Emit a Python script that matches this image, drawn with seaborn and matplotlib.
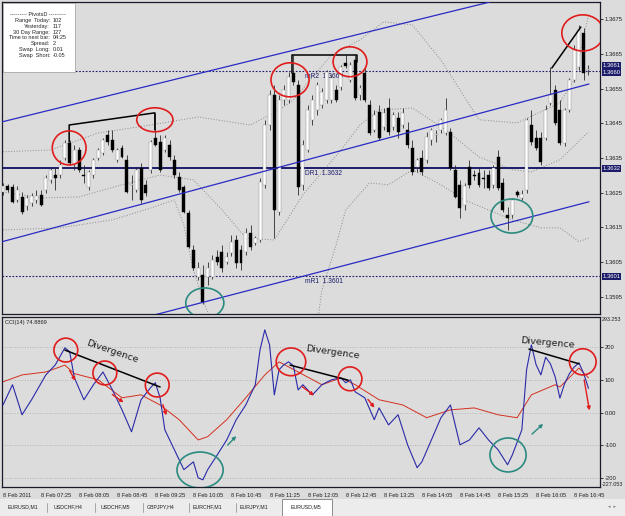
import numpy as np
import matplotlib
matplotlib.use("Agg")
import matplotlib.pyplot as plt
import matplotlib.transforms as mtransforms
from matplotlib.patches import Ellipse, Rectangle
import seaborn as sns

# EURUSD M5, 8 Feb 2011 (one value per 5-minute bar)
opens = [1.36252, 1.36270, 1.36267, 1.36229, 1.36238, 1.36212, 1.36221, 1.36229, 1.36244, 1.36258,
         1.36287, 1.36301, 1.36301, 1.36350, 1.36393, 1.36330, 1.36373, 1.36301, 1.36267, 1.36301,
         1.36350, 1.36365, 1.36416, 1.36402, 1.36345, 1.36379, 1.36345, 1.36273, 1.36258, 1.36322,
         1.36273, 1.36316, 1.36408, 1.36396, 1.36373, 1.36388, 1.36345, 1.36295, 1.36267, 1.36192,
         1.36086, 1.36008, 1.36014, 1.36008, 1.36008, 1.36065, 1.36080, 1.36051, 1.36077, 1.36114,
         1.36086, 1.36080, 1.36134, 1.36106, 1.36114, 1.36273, 1.36445, 1.36532, 1.36195, 1.36517,
         1.36517, 1.36595, 1.36560, 1.36273, 1.36373, 1.36460, 1.36488, 1.36503, 1.36517, 1.36517,
         1.36546, 1.36555, 1.36624, 1.36575, 1.36632, 1.36532, 1.36595, 1.36503, 1.36431, 1.36483,
         1.36440, 1.36494, 1.36440, 1.36465, 1.36445, 1.36431, 1.36379, 1.36324, 1.36350, 1.36345,
         1.36402, 1.36416, 1.36431, 1.36422, 1.36425, 1.36316, 1.36273, 1.36215, 1.36324, 1.36301,
         1.36307, 1.36293, 1.36301, 1.36273, 1.36353, 1.36278, 1.36186, 1.36186, 1.36252, 1.36235,
         1.36258, 1.36445, 1.36408, 1.36408, 1.36408, 1.36509, 1.36546, 1.36488, 1.36393, 1.36488,
         1.36575, 1.36612, 1.36710, 1.36604]
highs = [1.36278, 1.36275, 1.36275, 1.36270, 1.36252, 1.36244, 1.36250, 1.36258, 1.36258, 1.36301,
         1.36322, 1.36324, 1.36345, 1.36402, 1.36402, 1.36388, 1.36382, 1.36330, 1.36316, 1.36350,
         1.36379, 1.36408, 1.36431, 1.36431, 1.36379, 1.36388, 1.36359, 1.36301, 1.36322, 1.36336,
         1.36287, 1.36402, 1.36480, 1.36416, 1.36416, 1.36402, 1.36359, 1.36310, 1.36273, 1.36201,
         1.36100, 1.36051, 1.36042, 1.36051, 1.36071, 1.36086, 1.36100, 1.36080, 1.36129, 1.36129,
         1.36100, 1.36149, 1.36157, 1.36126, 1.36293, 1.36460, 1.36546, 1.36560, 1.36532, 1.36560,
         1.36598, 1.36647, 1.36575, 1.36402, 1.36503, 1.36532, 1.36569, 1.36552, 1.36604, 1.36589,
         1.36560, 1.36618, 1.36647, 1.36627, 1.36647, 1.36560, 1.36609, 1.36517, 1.36488, 1.36503,
         1.36494, 1.36523, 1.36483, 1.36483, 1.36494, 1.36454, 1.36402, 1.36350, 1.36373, 1.36425,
         1.36437, 1.36431, 1.36465, 1.36523, 1.36437, 1.36330, 1.36287, 1.36278, 1.36345, 1.36316,
         1.36322, 1.36316, 1.36316, 1.36330, 1.36373, 1.36293, 1.36209, 1.36235, 1.36258, 1.36258,
         1.36465, 1.36488, 1.36431, 1.36425, 1.36503, 1.36612, 1.36560, 1.36517, 1.36494, 1.36581,
         1.36676, 1.36733, 1.36724, 1.36618]
lows = [1.36244, 1.36252, 1.36221, 1.36224, 1.36189, 1.36201, 1.36212, 1.36221, 1.36212, 1.36250,
        1.36278, 1.36258, 1.36293, 1.36345, 1.36330, 1.36316, 1.36310, 1.36278, 1.36258, 1.36293,
        1.36345, 1.36359, 1.36388, 1.36368, 1.36339, 1.36350, 1.36250, 1.36229, 1.36252, 1.36221,
        1.36241, 1.36307, 1.36385, 1.36310, 1.36368, 1.36345, 1.36293, 1.36252, 1.36192, 1.36091,
        1.36028, 1.35999, 1.35930, 1.35985, 1.36002, 1.36042, 1.36022, 1.36045, 1.36068, 1.36034,
        1.36028, 1.36071, 1.36086, 1.36100, 1.36109, 1.36264, 1.36431, 1.36120, 1.36186, 1.36503,
        1.36509, 1.36560, 1.36244, 1.36258, 1.36368, 1.36445, 1.36474, 1.36494, 1.36509, 1.36509,
        1.36511, 1.36546, 1.36609, 1.36569, 1.36517, 1.36517, 1.36511, 1.36416, 1.36425, 1.36402,
        1.36431, 1.36416, 1.36431, 1.36408, 1.36437, 1.36379, 1.36301, 1.36310, 1.36301, 1.36336,
        1.36388, 1.36396, 1.36422, 1.36416, 1.36316, 1.36235, 1.36178, 1.36201, 1.36264, 1.36287,
        1.36267, 1.36264, 1.36258, 1.36264, 1.36258, 1.36195, 1.36143, 1.36178, 1.36238, 1.36229,
        1.36250, 1.36388, 1.36373, 1.36330, 1.36402, 1.36503, 1.36445, 1.36388, 1.36385, 1.36483,
        1.36569, 1.36604, 1.36575, 1.36589]
closes = [1.36270, 1.36258, 1.36224, 1.36258, 1.36195, 1.36235, 1.36241, 1.36241, 1.36215, 1.36293,
          1.36316, 1.36293, 1.36330, 1.36393, 1.36336, 1.36373, 1.36316, 1.36298, 1.36310, 1.36345,
          1.36373, 1.36402, 1.36396, 1.36373, 1.36373, 1.36353, 1.36252, 1.36275, 1.36316, 1.36229,
          1.36250, 1.36396, 1.36388, 1.36316, 1.36408, 1.36353, 1.36301, 1.36258, 1.36195, 1.36094,
          1.36034, 1.36034, 1.35936, 1.36034, 1.36057, 1.36051, 1.36034, 1.36065, 1.36109, 1.36048,
          1.36048, 1.36134, 1.36094, 1.36120, 1.36281, 1.36445, 1.36532, 1.36201, 1.36517, 1.36546,
          1.36583, 1.36569, 1.36267, 1.36388, 1.36488, 1.36517, 1.36560, 1.36540, 1.36598, 1.36581,
          1.36517, 1.36612, 1.36615, 1.36618, 1.36523, 1.36552, 1.36517, 1.36422, 1.36474, 1.36408,
          1.36480, 1.36425, 1.36474, 1.36425, 1.36480, 1.36388, 1.36310, 1.36345, 1.36310, 1.36411,
          1.36431, 1.36419, 1.36460, 1.36488, 1.36322, 1.36238, 1.36206, 1.36270, 1.36273, 1.36298,
          1.36273, 1.36290, 1.36264, 1.36322, 1.36264, 1.36201, 1.36178, 1.36229, 1.36244, 1.36247,
          1.36460, 1.36396, 1.36379, 1.36339, 1.36488, 1.36532, 1.36451, 1.36393, 1.36488, 1.36575,
          1.36661, 1.36719, 1.36595, 1.36606]

# dotted envelope curves (bar index, price)
upper_bars = [0, 10, 20, 31, 41, 52, 58, 61, 69, 75, 80, 86, 92, 100, 108, 117, 120, 123]
upper_band = [1.36368, 1.36373, 1.36422, 1.36445, 1.36468, 1.36445, 1.36488, 1.36517, 1.36647,
              1.36690, 1.36742, 1.36733, 1.36632, 1.36460, 1.36451, 1.36509, 1.36575, 1.36760]
middle_bars = [0, 8, 16, 25, 33, 40, 46, 51, 57, 63, 71, 75, 79, 86, 93, 100, 107, 111, 117, 123]
middle_band = [1.36252, 1.36235, 1.36238, 1.36273, 1.36301, 1.36287, 1.36201, 1.36120, 1.36114, 1.36244,
               1.36373, 1.36445, 1.36488, 1.36494, 1.36431, 1.36353, 1.36316, 1.36310, 1.36345, 1.36425]
lower_bars = [0, 12, 23, 31, 36, 38, 40, 42, 44, 50, 60, 66, 67, 70, 72, 77, 81, 86, 92, 97,
              107, 113, 117, 121, 123]
lower_band = [1.36143, 1.36149, 1.36172, 1.36206, 1.36229, 1.36157, 1.36028, 1.35942, 1.35870, 1.35798,
              1.35798, 1.35870, 1.35970, 1.36100, 1.36201, 1.36278, 1.36273, 1.36316, 1.36273, 1.36229,
              1.36172, 1.36149, 1.36149, 1.36109, 1.36120]

# CCI(14) and its signal line
cci_bars = [0, 2, 4, 6, 9, 11, 13, 14, 15, 17, 19, 21, 23, 25, 27, 29, 31, 32, 33, 34,
            36, 38, 40, 41, 42, 43, 45, 47, 49, 51, 53, 54, 55, 56, 57, 58, 59, 60, 61, 62,
            63, 65, 67, 69, 71, 72, 73, 74, 76, 78, 79, 81, 83, 85, 87, 88, 90, 92, 94, 96,
            98, 100, 102, 104, 106, 107, 109, 110, 111, 112, 113, 114, 115, 116, 117, 118, 119, 120,
            121, 122, 123]
cci_values = [24, 86, -6, 40, 116, 147, 199, 187, 107, 40, 86, 125, 70, 9, -58, 40, 77, 92, 46, -52,
              -113, -174, -150, -199, -205, -174, -129, -83, -21, 24, 86, 193, 254, 208, 55, 132, 147, 156, 144, 70,
              86, 55, 86, 101, 107, 92, 101, 64, 46, -21, 15, -37, -6, -98, -168, -150, -83, -15, 24, -98,
              -83, -46, -83, -113, -159, -129, -52, 132, 208, 147, 116, 170, 150, 110, 45, 90, 120, 140,
              153, 120, 74.8869]
signal_bars = [0, 4, 9, 13, 15, 20, 25, 29, 33, 37, 41, 43, 47, 51, 55, 58, 62, 67, 71, 74,
               79, 84, 89, 94, 99, 104, 108, 111, 116, 117, 121, 123]
signal_values = [95, 116, 125, 146, 120, 101, 46, 55, 24, -21, -83, -73, -21, 46, 116, 156, 125, 86, 107, 86,
                 40, 24, -15, 9, 15, -6, -15, 55, 86, 79, 137, 107]

pivot_names = ["mR2", "DR1", "mR1"]
pivot_levels = [1.3660, 1.3632, 1.3601]
price_ticks = [1.3595, 1.3605, 1.3615, 1.3625, 1.3635, 1.3645, 1.3655, 1.3665, 1.3675]
cci_ticks = [200, 100, 0, -100, -200]
cci_tick_labels = ["200", "100", "0.00", "-100", "-200"]
time_ticks = list(range(0, 121, 8))
time_labels = ["8 Feb 2011", "8 Feb 07:25", "8 Feb 08:05", "8 Feb 08:45", "8 Feb 09:25", "8 Feb 10:05",
               "8 Feb 10:45", "8 Feb 11:25", "8 Feb 12:05", "8 Feb 12:45", "8 Feb 13:25", "8 Feb 14:05",
               "8 Feb 14:45", "8 Feb 15:25", "8 Feb 16:05", "8 Feb 16:45"]
info_labels = ["Range  Today:", "Yesterday:", "30 Day Range:", "Time to next bar:", "Spread:",
               "Swap  Long:", "Swap  Short:"]
info_values = ["102", "117", "127", "04:25", "2", "0.01", "-0.05"]
tab_names = ["EURUSD,M1", "USDCHF,H4", "USDCHF,M5", "GBPJPY,H4", "EURCHF,M1", "EURJPY,M1", "EURUSD,M5"]

BG = "#dcdcdc"
NAVY = "#1c1c6a"
RED = "#e01c1c"
TEAL = "#2b8a80"

sns.set_style("white", {"axes.facecolor": BG, "figure.facecolor": BG})
plt.rcParams["font.family"] = ["Liberation Sans", "DejaVu Sans"]

fig = plt.figure(figsize=(6.25, 5.16), dpi=100)


def px_rect(left, top, right, bottom):
    return [left / 625, 1 - bottom / 516, (right - left) / 625, (bottom - top) / 516]


ax = fig.add_axes(px_rect(2, 2, 600, 314))
cx = fig.add_axes(px_rect(2, 317, 600, 487))
tabs = fig.add_axes(px_rect(0, 499, 625, 516))

xlim = (-0.21, 125.42)

# ---- price window ----
for bx, by in [(upper_bars, upper_band), (middle_bars, middle_band), (lower_bars, lower_band)]:
    sns.lineplot(x=bx, y=by, ax=ax, color="#8a8a8a", lw=0.7, linestyle=(0, (1, 1.8)),
                 estimator=None, sort=False, zorder=1)

for name, level in zip(pivot_names, pivot_levels):
    if name == "DR1":
        ax.axhline(level, color=NAVY, lw=1.4, zorder=2)
    else:
        ax.axhline(level, color=NAVY, lw=0.8, ls=(0, (1.5, 1.5)), zorder=2)
    ax.annotate(f"{name}  {level:.4f}", xy=(63.5, level), xytext=(0, -1.2), textcoords="offset points",
                va="top", ha="left", fontsize=4.8, color=NAVY, zorder=2)

bars = np.arange(len(closes))
o, h, l, c = map(np.array, (opens, highs, lows, closes))
up = c >= o
ax.vlines(bars, l, h, color="#2a2a2a", lw=0.6, zorder=3)
body_lo = np.minimum(o, c)
body_h = np.maximum(np.abs(c - o), 0.000012)
ax.bar(bars[up], body_h[up], bottom=body_lo[up], width=0.62, color="white",
       edgecolor="#8a8a8a", linewidth=0.3, zorder=4)
ax.bar(bars[~up], body_h[~up], bottom=body_lo[~up], width=0.62, color="black",
       edgecolor="black", linewidth=0.3, zorder=4)

# regression channel
channel = [((-0.2, 102.3), (1.36454, 1.36799)),
           ((-0.2, 123.1), (1.36109, 1.36563)),
           ((30.9, 123.1), (1.35895, 1.36224))]
for xs, ys in channel:
    ax.plot(xs, ys, color="#2a2ac4", lw=0.9, zorder=5)

# hand-drawn marks
for pts in [[(13.9, 1.36396), (13.9, 1.36445), (31.9, 1.36480), (31.9, 1.36431)],
            [(60.7, 1.36595), (60.7, 1.36647), (74.4, 1.36647), (74.4, 1.36627)],
            [(115.3, 1.36609), (121.4, 1.36727)]]:
    xs, ys = zip(*pts)
    ax.plot(xs, ys, color="black", lw=1.1, zorder=6)
for (bx, py, w, hh, col) in [(13.9, 1.36379, 7.1, 0.00098, RED), (31.9, 1.36460, 7.6, 0.00069, RED),
                             (60.3, 1.36575, 8.0, 0.00098, RED), (72.9, 1.36627, 7.1, 0.00086, RED),
                             (121.8, 1.36710, 8.8, 0.00104, RED), (42.4, 1.35933, 8.0, 0.00086, TEAL),
                             (106.9, 1.36183, 8.8, 0.00098, TEAL)]:
    ax.add_patch(Ellipse((bx, py), w, hh, fill=False, ec=col, lw=1.2, zorder=7))

# info panel
ax.add_patch(Rectangle((0.0017, 0.7756), 0.1204, 0.2212, transform=ax.transAxes,
                       fc="white", ec="#9a9a9a", lw=0.5, zorder=8))
ax.text(0.0602, 1 - 13 / 312, "--------- PivotsD ---------", transform=ax.transAxes,
        ha="center", va="center", fontsize=4, zorder=9)
for i, (lab, val) in enumerate(zip(info_labels, info_values)):
    yy = 1 - (18.7 + 5.75 * i) / 312
    ax.text(0.0803, yy, lab, transform=ax.transAxes, ha="right", va="center", fontsize=4, zorder=9)
    ax.text(0.0853, yy, val, transform=ax.transAxes, ha="left", va="center", fontsize=4, zorder=9)

ax.set_xlim(xlim)
ax.set_ylim(1.35901, 1.36799)
ax.yaxis.tick_right()
ax.set_yticks(price_ticks)
ax.set_yticklabels([f"{t:.4f}" for t in price_ticks])
ax.tick_params(axis="y", length=2, width=0.6, labelsize=4.2, pad=1.5, colors="#202020")
ax.tick_params(axis="x", bottom=False, labelbottom=False)
ax.set_xlabel("")
ax.set_ylabel("")

box_tr = mtransforms.blended_transform_factory(ax.transAxes, ax.transData)
for val, ypos in [("1.3661", 1.36616), ("1.3660", 1.36596), ("1.3632", 1.3632), ("1.3601", 1.3601)]:
    ax.text(1.004, ypos, val, transform=box_tr, ha="left", va="center", fontsize=4.2, color="white",
            bbox=dict(boxstyle="square,pad=0.15", fc=NAVY, ec="none"), clip_on=False, zorder=10)

# ---- CCI window ----
for lvl in cci_ticks:
    cx.axhline(lvl, color="#a8a8a8", lw=0.6, ls=(0, (1, 2)), zorder=1)
sns.lineplot(x=signal_bars, y=signal_values, ax=cx, color="#d4301e", lw=0.7,
             estimator=None, sort=False, zorder=2)
sns.lineplot(x=cci_bars, y=cci_values, ax=cx, color="#2a2aa8", lw=0.8,
             estimator=None, sort=False, zorder=3)

for xs, ys in [((13.0, 33.0), (192, 79)), ((60.3, 72.5), (146, 100)), ((110.5, 121.0), (195, 150))]:
    cx.plot(xs, ys, color="black", lw=1.1, zorder=5)
for (bx, v, w, hh, col) in [(13.2, 192, 5.0, 73, RED), (21.4, 122, 5.0, 73, RED), (32.4, 85, 5.0, 73, RED),
                            (60.5, 156, 6.2, 85, RED), (72.9, 104, 5.0, 73, RED), (121.8, 156, 5.6, 80, RED),
                            (41.4, -175, 9.7, 110, TEAL), (106.1, -129, 7.6, 104, TEAL)]:
    cx.add_patch(Ellipse((bx, v), w, hh, fill=False, ec=col, lw=1.2, zorder=6))
for (x0, v0, x1, v1, col) in [(13.7, 137, 15.5, 91, RED), (22.5, 61, 25.8, 27, RED), (33.4, 33, 34.5, -16, RED),
                              (62.4, 85, 65.8, 48, RED), (76.3, 48, 78.4, 9, RED), (122.0, 109, 123.3, -1, RED),
                              (46.8, -105, 49.4, -65, TEAL), (110.7, -71, 113.9, -28, TEAL)]:
    cx.annotate("", xy=(x1, v1), xytext=(x0, v0),
                arrowprops=dict(arrowstyle="-|>", color=col, lw=1.0, mutation_scale=5), zorder=7)
for (bx, v, rot) in [(22.9, 186, -19), (69.3, 186, -8), (114.3, 214, -5)]:
    cx.text(bx, v, "Divergence", rotation=rot, ha="center", va="center", fontsize=6.8,
            family=["DejaVu Sans"], color="#202020", zorder=8, rotation_mode="anchor")

cx.text(0.005, 0.985, "CCI(14) 74.8869", transform=cx.transAxes, ha="left", va="top",
        fontsize=4.1, color="#202020")
cx.set_xlim(xlim)
cx.set_ylim(-227.053, 293.253)
cx.yaxis.tick_right()
cx.set_yticks(cci_ticks)
cx.set_yticklabels(cci_tick_labels)
cx.tick_params(axis="y", length=2, width=0.6, labelsize=4.2, pad=1.5, colors="#202020")
cx.set_xticks(time_ticks)
cx.set_xticklabels(time_labels, ha="left")
cx.tick_params(axis="x", length=2, width=0.6, labelsize=4.1, pad=2, colors="#202020")
cx.set_xlabel("")
cx.set_ylabel("")
cx_tr = mtransforms.blended_transform_factory(cx.transAxes, cx.transData)
cx.text(1.003, 293.253, "293.253", transform=cx_tr, ha="left", va="top", fontsize=3.9, color="#202020")
cx.text(1.003, -227.053, "-227.053", transform=cx_tr, ha="left", va="bottom", fontsize=3.9, color="#202020")

for a in (ax, cx):
    for s in a.spines.values():
        s.set_color("#1a1a2a")
        s.set_linewidth(0.9)

# ---- symbol tabs ----
tabs.set_xlim(0, 625)
tabs.set_ylim(17, 0)
tabs.axis("off")
tabs.add_patch(Rectangle((0, 0), 625, 17, fc="#ececec", ec="none"))
tabs.add_patch(Rectangle((282, 0.3), 50, 16.5, fc="white", ec="#7a7a7a", lw=0.6))
for name, cxp in zip(tab_names, [23, 68, 115, 161, 207, 254, 306]):
    tabs.text(cxp, 8, name, ha="center", va="center", fontsize=3.8, color="#202020")
for sx in [47, 95, 143, 189, 236]:
    tabs.plot([sx, sx], [4, 13], color="#9a9a9a", lw=0.6)
tabs.text(612, 8, "\u25c2  \u25b8", ha="center", va="center", fontsize=3.5, color="#808080",
          family=["DejaVu Sans"])

fig.savefig("out.png", dpi=100, facecolor=fig.get_facecolor())
